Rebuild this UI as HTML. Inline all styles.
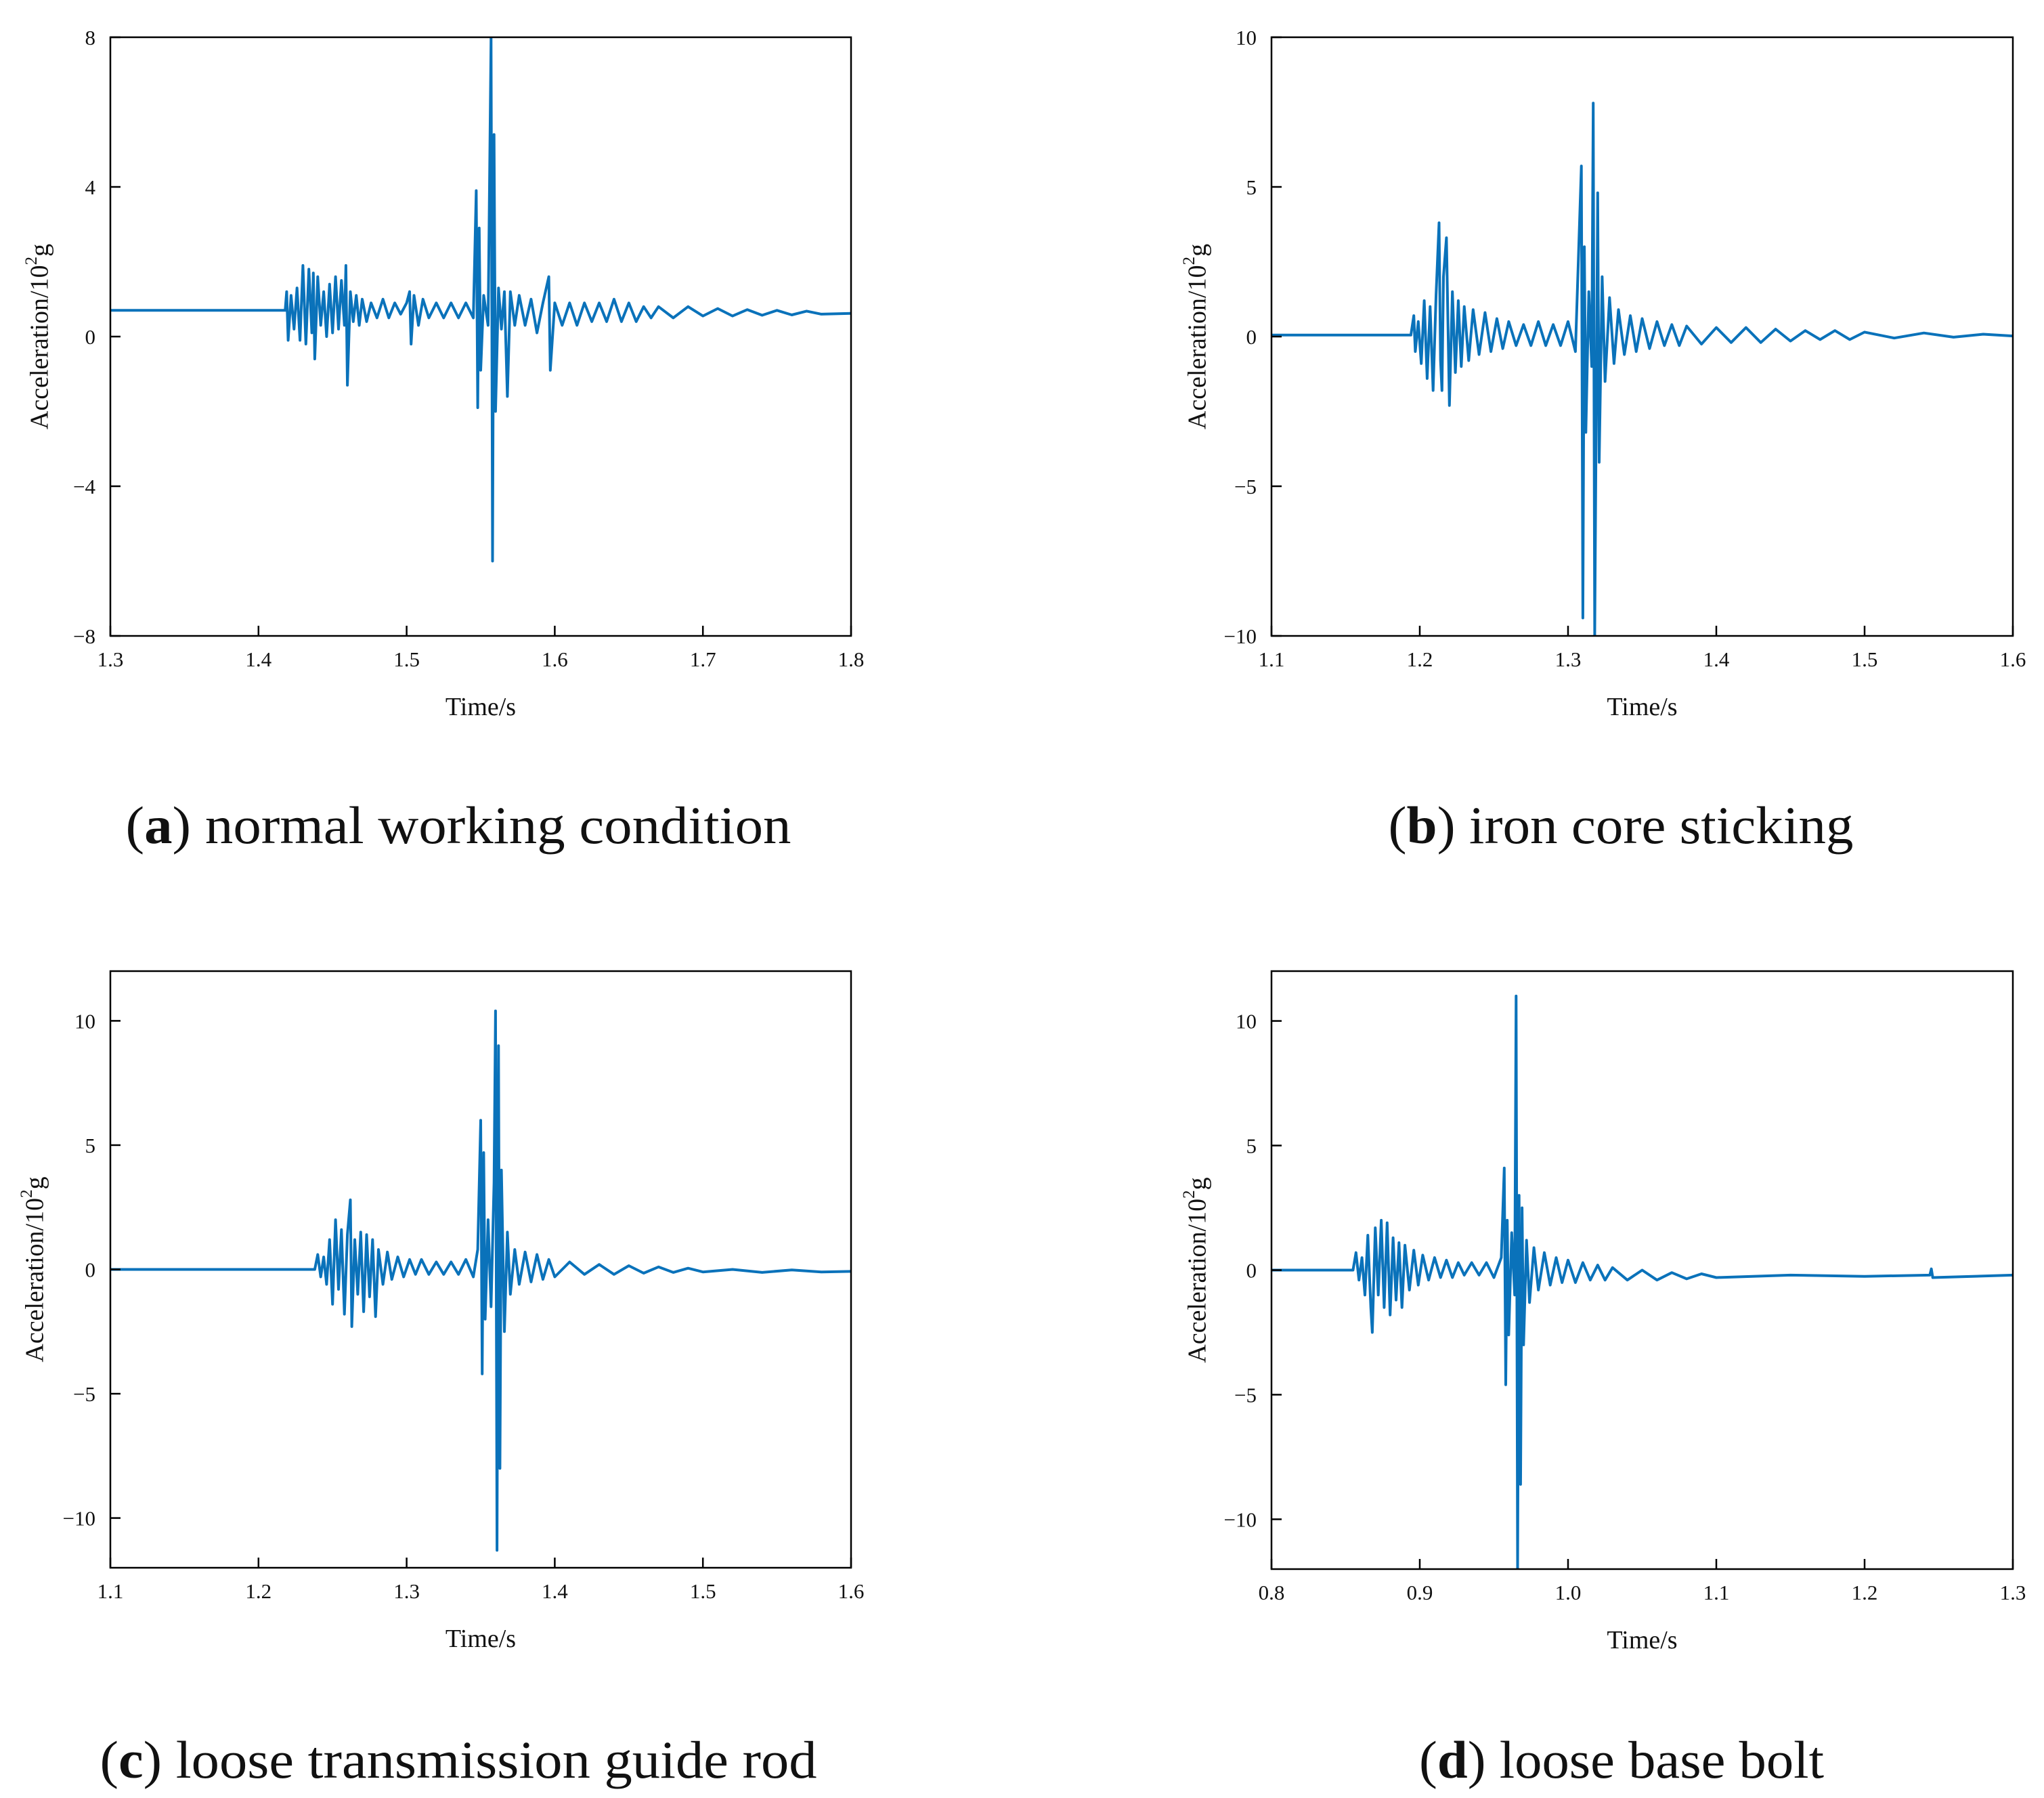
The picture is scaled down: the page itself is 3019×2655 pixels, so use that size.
<!DOCTYPE html>
<html><head><meta charset="utf-8"><style>
html,body{margin:0;padding:0;background:#fff}
svg{display:block}
text{font-family:"Liberation Serif",serif;fill:#111}
</style></head><body>
<svg id="fig" width="3019" height="2655" viewBox="0 0 3019 2655" xmlns="http://www.w3.org/2000/svg"></svg>
<script>
// Panel (a) data: [time, acceleration]
const seriesA = [[1.3,0.7],[1.418,0.7],[1.419,1.2],[1.420,-0.1],[1.422,1.1],[1.424,0.2],[1.426,1.3],[1.428,-0.1],[1.430,1.9],[1.432,-0.2],[1.434,1.8],[1.436,0.1],[1.437,1.7],[1.438,-0.6],[1.440,1.6],[1.442,0.3],[1.444,1.2],[1.446,0.0],[1.448,1.4],[1.450,0.1],[1.452,1.6],[1.454,0.2],[1.456,1.5],[1.458,0.3],[1.459,1.9],[1.460,-1.3],[1.462,1.2],[1.464,0.4],[1.466,1.1],[1.468,0.3],[1.470,1.0],[1.473,0.4],[1.476,0.9],[1.480,0.5],[1.484,1.0],[1.488,0.5],[1.492,0.9],[1.496,0.6],[1.500,0.9],[1.502,1.2],[1.503,-0.2],[1.505,1.1],[1.508,0.3],[1.511,1.0],[1.515,0.5],[1.520,0.9],[1.525,0.5],[1.530,0.9],[1.535,0.5],[1.540,0.9],[1.545,0.5],[1.547,3.9],[1.548,-1.9],[1.549,2.9],[1.550,-0.9],[1.552,1.1],[1.555,0.3],[1.557,8],[1.558,-6],[1.559,5.4],[1.560,-2.0],[1.562,1.3],[1.564,0.2],[1.566,1.2],[1.568,-1.6],[1.570,1.2],[1.573,0.3],[1.576,1.1],[1.580,0.3],[1.584,1.0],[1.588,0.1],[1.592,0.9],[1.596,1.6],[1.597,-0.9],[1.600,0.9],[1.605,0.3],[1.610,0.9],[1.615,0.3],[1.620,0.9],[1.625,0.4],[1.630,0.9],[1.635,0.4],[1.640,1.0],[1.645,0.4],[1.650,0.9],[1.655,0.4],[1.660,0.8],[1.665,0.5],[1.670,0.8],[1.680,0.5],[1.690,0.8],[1.700,0.55],[1.710,0.75],[1.720,0.55],[1.730,0.72],[1.740,0.57],[1.750,0.7],[1.760,0.58],[1.770,0.68],[1.780,0.6],[1.800,0.62]];
const seriesB = [[1.1,0.05],[1.194,0.05],[1.196,0.7],[1.197,-0.5],[1.199,0.5],[1.201,-0.9],[1.203,1.2],[1.205,-1.4],[1.207,1.0],[1.209,-1.8],[1.211,1.4],[1.213,3.8],[1.214,-0.8],[1.215,-1.8],[1.216,2.0],[1.218,3.3],[1.220,-2.3],[1.222,1.5],[1.224,-1.2],[1.226,1.2],[1.228,-1.0],[1.230,1.0],[1.233,-0.8],[1.236,0.9],[1.240,-0.6],[1.244,0.8],[1.248,-0.5],[1.252,0.6],[1.256,-0.4],[1.260,0.5],[1.265,-0.3],[1.270,0.4],[1.275,-0.3],[1.280,0.5],[1.285,-0.3],[1.290,0.4],[1.295,-0.3],[1.300,0.5],[1.305,-0.5],[1.309,5.7],[1.310,-9.4],[1.311,3.0],[1.312,-3.2],[1.314,1.5],[1.316,-1.0],[1.317,7.8],[1.318,-10],[1.320,4.8],[1.321,-4.2],[1.323,2.0],[1.325,-1.5],[1.328,1.3],[1.331,-0.9],[1.334,0.9],[1.338,-0.6],[1.342,0.7],[1.346,-0.5],[1.350,0.6],[1.355,-0.4],[1.360,0.5],[1.365,-0.3],[1.370,0.4],[1.375,-0.3],[1.380,0.35],[1.390,-0.25],[1.400,0.3],[1.410,-0.2],[1.420,0.3],[1.430,-0.2],[1.440,0.25],[1.450,-0.15],[1.460,0.2],[1.470,-0.1],[1.480,0.2],[1.490,-0.1],[1.500,0.15],[1.520,-0.05],[1.540,0.12],[1.560,-0.02],[1.580,0.08],[1.600,0.02]];
const seriesC = [[1.1,0.0],[1.238,0.0],[1.240,0.6],[1.242,-0.3],[1.244,0.5],[1.246,-0.6],[1.248,1.2],[1.250,-1.4],[1.252,2.0],[1.254,-0.8],[1.256,1.6],[1.258,-1.8],[1.260,1.4],[1.262,2.8],[1.263,-2.3],[1.265,1.2],[1.267,-1.0],[1.269,1.5],[1.271,-1.7],[1.273,1.4],[1.275,-1.1],[1.277,1.2],[1.279,-1.9],[1.281,0.8],[1.284,-0.6],[1.287,0.7],[1.290,-0.4],[1.294,0.5],[1.298,-0.3],[1.302,0.4],[1.306,-0.2],[1.310,0.4],[1.315,-0.2],[1.320,0.3],[1.325,-0.2],[1.330,0.3],[1.335,-0.2],[1.340,0.4],[1.345,-0.3],[1.348,0.8],[1.350,6.0],[1.351,-4.2],[1.352,4.7],[1.353,-2.0],[1.355,2.0],[1.357,-1.5],[1.359,3.5],[1.360,10.4],[1.361,-11.3],[1.362,9.0],[1.363,-8.0],[1.364,4.0],[1.366,-2.5],[1.368,1.5],[1.370,-1.0],[1.373,0.8],[1.376,-0.6],[1.380,0.7],[1.384,-0.5],[1.388,0.6],[1.392,-0.4],[1.396,0.4],[1.400,-0.3],[1.410,0.3],[1.420,-0.2],[1.430,0.2],[1.440,-0.2],[1.450,0.15],[1.460,-0.15],[1.470,0.1],[1.480,-0.12],[1.490,0.05],[1.500,-0.1],[1.520,0.0],[1.540,-0.12],[1.560,-0.02],[1.580,-0.1],[1.600,-0.08]];
const seriesD = [[0.8,0.0],[0.855,0.0],[0.857,0.7],[0.859,-0.4],[0.861,0.5],[0.863,-1.0],[0.865,1.4],[0.867,-1.5],[0.868,-2.5],[0.870,1.7],[0.872,-1.0],[0.874,2.0],[0.876,-1.5],[0.878,1.9],[0.880,-1.8],[0.882,1.3],[0.884,-1.2],[0.886,1.1],[0.888,-1.5],[0.890,1.0],[0.893,-0.8],[0.896,0.8],[0.899,-0.6],[0.902,0.6],[0.906,-0.4],[0.910,0.5],[0.914,-0.3],[0.918,0.4],[0.922,-0.3],[0.926,0.3],[0.930,-0.2],[0.935,0.3],[0.940,-0.2],[0.945,0.3],[0.950,-0.3],[0.955,0.5],[0.957,4.1],[0.958,-4.6],[0.959,2.0],[0.960,-2.6],[0.962,1.5],[0.964,-1.0],[0.965,11.0],[0.966,-12],[0.967,3.0],[0.968,-8.6],[0.969,2.5],[0.970,-3.0],[0.972,1.2],[0.974,-1.3],[0.977,0.9],[0.980,-0.8],[0.984,0.7],[0.988,-0.6],[0.992,0.5],[0.996,-0.5],[1.000,0.4],[1.005,-0.5],[1.010,0.3],[1.015,-0.4],[1.020,0.2],[1.025,-0.4],[1.030,0.1],[1.040,-0.4],[1.050,0.0],[1.060,-0.4],[1.070,-0.1],[1.080,-0.35],[1.090,-0.15],[1.100,-0.3],[1.150,-0.2],[1.200,-0.25],[1.244,-0.2],[1.245,0.05],[1.246,-0.3],[1.300,-0.2]];
const xTicksA = [1.3,1.4,1.5,1.6,1.7,1.8];
const xTicksB = [1.1,1.2,1.3,1.4,1.5,1.6];
const xTicksD = [0.8,0.9,1.0,1.1,1.2,1.3];
const yTicksA = [-8,-4,0,4,8];
const yTicksB = [-10,-5,0,5,10];
const yLabelsA = ["\u22128","\u22124","0","4","8"];
const yLabelsB = ["\u221210","\u22125","0","5","10"];
const captions = ["a","b","c","d"];
const captionTexts = [" normal working condition"," iron core sticking"," loose transmission guide rod"," loose base bolt"];

const NS="http://www.w3.org/2000/svg";
const svg=document.getElementById('fig');
function mk(tag,attrs,parent){const e=document.createElementNS(NS,tag);for(const k in attrs)e.setAttribute(k,attrs[k]);(parent||svg).appendChild(e);return e;}

const panels=[
 {id:'a',x0:163,x1:1257,y0:55,y1:939,xd:[1.3,1.8],yd:[-8,8],data:seriesA,xt:xTicksA,yt:yTicksA,yl:yLabelsA,ytitleX:62,capX:677,capY:1245,capW:983},
 {id:'b',x0:1878,x1:2973,y0:55,y1:939,xd:[1.1,1.6],yd:[-10,10],data:seriesB,xt:xTicksB,yt:yTicksB,yl:yLabelsB,ytitleX:1772,capX:2394,capY:1245,capW:687},
 {id:'c',x0:163,x1:1257,y0:1434,y1:2315,xd:[1.1,1.6],yd:[-12,12],data:seriesC,xt:xTicksB,yt:yTicksB,yl:yLabelsB,ytitleX:55,capX:677,capY:2625,capW:1059},
 {id:'d',x0:1878,x1:2973,y0:1434,y1:2317,xd:[0.8,1.3],yd:[-12,12],data:seriesD,xt:xTicksD,yt:yTicksB,yl:yLabelsB,ytitleX:1772,capX:2395,capY:2625,capW:598}
];
panels.forEach((p,i)=>{
  const g=mk('g',{});
  
  
  const sx=v=>p.x0+(v-p.xd[0])/(p.xd[1]-p.xd[0])*(p.x1-p.x0);
  const sy=v=>p.y1-(v-p.yd[0])/(p.yd[1]-p.yd[0])*(p.y1-p.y0);
  const cid='clip'+p.id;
  const cp=mk('clipPath',{id:cid},g);mk('rect',{x:p.x0,y:p.y0,width:p.x1-p.x0,height:p.y1-p.y0},cp);
  const d=p.data.map((pt,j)=>(j?'L':'M')+sx(pt[0]).toFixed(1)+' '+sy(pt[1]).toFixed(1)).join('');
  const line=mk('path',{d:d,fill:'none',stroke:'#0a72ba','stroke-width':4,'stroke-linejoin':'round','clip-path':'url(#'+cid+')'},g);
  
  
  const box=mk('rect',{x:p.x0,y:p.y0,width:p.x1-p.x0,height:p.y1-p.y0,fill:'none',stroke:'#000','stroke-width':2.5},g);
  
  
  p.xt.forEach((t,k)=>{
    const x=sx(t);
    mk('line',{x1:x,x2:x,y1:p.y1,y2:p.y1-15,stroke:'#000','stroke-width':2.5},g);
    const tx=mk('text',{x:x,y:p.y1+45,'text-anchor':'middle','font-size':31},g);
    tx.textContent=t.toFixed(1);
    
    
  });
  p.yt.forEach((t,k)=>{
    const y=sy(t);
    mk('line',{x1:p.x0,x2:p.x0+15,y1:y,y2:y,stroke:'#000','stroke-width':2.5},g);
    const ty=mk('text',{x:p.x0-22,y:y+11,'text-anchor':'end','font-size':31},g);
    ty.textContent=p.yl[k];
    
    
  });
  const xt=mk('text',{x:(p.x0+p.x1)/2,y:p.y1+117,'text-anchor':'middle','font-size':38},g);
  xt.textContent='Time/s';
  
  
  const cy=(p.y0+p.y1)/2;
  const yt=mk('text',{x:p.ytitleX,y:cy,'text-anchor':'middle','font-size':38,transform:'rotate(-90 '+(p.ytitleX)+' '+cy+')','dominant-baseline':'middle'},g);
  yt.innerHTML='Acceleration/10<tspan dy="-14" font-size="25">2</tspan><tspan dy="14">g</tspan>';
  
  
  const cap=mk('text',{x:p.capX,y:p.capY,'text-anchor':'middle','font-size':78,textLength:p.capW,lengthAdjust:'spacingAndGlyphs'},g);
  cap.innerHTML='(<tspan font-weight="bold">'+captions[i]+'</tspan>)'+captionTexts[i];
  
  
});
</script>
</body></html>
